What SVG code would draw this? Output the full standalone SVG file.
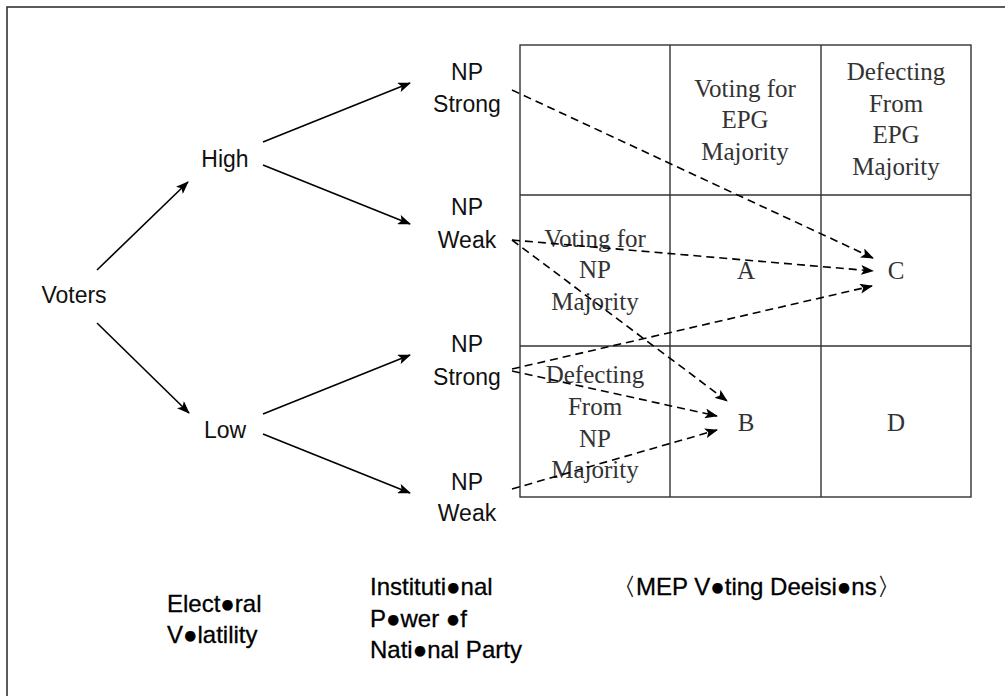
<svg xmlns="http://www.w3.org/2000/svg" width="1005" height="696" viewBox="0 0 1005 696">
<style>
.s{font-family:"Liberation Sans",Arial,sans-serif;font-size:23px;fill:#111;text-anchor:middle}
.b{font-family:"Liberation Sans",Arial,sans-serif;font-size:24px;fill:#000;stroke:#000;stroke-width:0.3;text-anchor:start}
.t{font-family:"Liberation Serif","Times New Roman",serif;font-size:25px;fill:#333;text-anchor:middle}
.solid{stroke:#000;stroke-width:1.6;fill:none;marker-end:url(#ah)}
.dash{stroke:#000;stroke-width:1.6;fill:none;stroke-dasharray:8 5;marker-end:url(#ah)}
.grid{stroke:#333;stroke-width:1.4;fill:none}
</style>
<defs>
<marker id="ah" viewBox="0 0 13 10" refX="12" refY="5" markerWidth="13" markerHeight="10" markerUnits="userSpaceOnUse" orient="auto">
<path d="M0,0 L13,5 L0,10 L3,5 Z" fill="#000"/>
</marker>
</defs>
<rect x="0" y="0" width="1005" height="696" fill="#fff"/>
<rect x="7" y="7" width="1100" height="800" fill="none" stroke="#333" stroke-width="1.6"/>
<g id="table">
<rect class="grid" x="520" y="45" width="451" height="452"/>
<line class="grid" x1="670" y1="45" x2="670" y2="497"/>
<line class="grid" x1="821" y1="45" x2="821" y2="497"/>
<line class="grid" x1="520" y1="195" x2="971" y2="195"/>
<line class="grid" x1="520" y1="346" x2="971" y2="346"/>
</g>
<g id="hdr-epg-vote"><text class="t" x="745" y="97">Voting for</text><text class="t" x="745" y="128">EPG</text><text class="t" x="745" y="160">Majority</text></g>
<g id="hdr-epg-defect"><text class="t" x="896" y="80">Defecting</text><text class="t" x="896" y="112">From</text><text class="t" x="896" y="143">EPG</text><text class="t" x="896" y="175">Majority</text></g>
<g id="hdr-np-vote"><text class="t" x="595" y="247">Voting for</text><text class="t" x="595" y="278">NP</text><text class="t" x="595" y="310">Majority</text></g>
<g id="hdr-np-defect"><text class="t" x="595" y="383">Defecting</text><text class="t" x="595" y="415">From</text><text class="t" x="595" y="447">NP</text><text class="t" x="595" y="478">Majority</text></g>
<g id="cellA"><text class="t" x="746" y="279">A</text></g>
<g id="cellC"><text class="t" x="896" y="279">C</text></g>
<g id="cellB"><text class="t" x="746" y="431">B</text></g>
<g id="cellD"><text class="t" x="896" y="431">D</text></g>
<g id="voters"><text class="s" x="74" y="303">Voters</text></g>
<g id="high"><text class="s" x="225" y="167">High</text></g>
<g id="low"><text class="s" x="225" y="438">Low</text></g>
<g id="np-strong-1"><text class="s" x="467" y="80">NP</text><text class="s" x="467" y="112">Strong</text></g>
<g id="np-weak-1"><text class="s" x="467" y="215">NP</text><text class="s" x="467" y="248">Weak</text></g>
<g id="np-strong-2"><text class="s" x="467" y="352">NP</text><text class="s" x="467" y="385">Strong</text></g>
<g id="np-weak-2"><text class="s" x="467" y="490">NP</text><text class="s" x="467" y="521">Weak</text></g>
<g id="label-volatility"><text class="b" x="167" y="612">Elect●ral</text><text class="b" x="167" y="643">V●latility</text></g>
<g id="label-power"><text class="b" x="370" y="595">Instituti●nal</text><text class="b" x="370" y="627">P●wer ●f</text><text class="b" x="370" y="658">Nati●nal Party</text></g>
<g id="label-mep"><text class="b" x="612" y="595">〈MEP V●ting Deeisi●ns〉</text></g>
<g id="connectors">
<line class="solid" x1="97" y1="270" x2="188" y2="182"/>
<line class="solid" x1="97" y1="323" x2="189" y2="413"/>
<line class="solid" x1="263" y1="142" x2="410" y2="83"/>
<line class="solid" x1="263" y1="165" x2="410" y2="224"/>
<line class="solid" x1="263" y1="414" x2="410" y2="355"/>
<line class="solid" x1="263" y1="434" x2="410" y2="493"/>
<line class="dash" x1="512" y1="90" x2="873" y2="258"/>
<line class="dash" x1="512" y1="240" x2="873" y2="271"/>
<line class="dash" x1="512" y1="240" x2="727" y2="401"/>
<line class="dash" x1="512" y1="369" x2="872" y2="286"/>
<line class="dash" x1="512" y1="371" x2="717" y2="416"/>
<line class="dash" x1="512" y1="489" x2="717" y2="430"/>
</g>
</svg>
